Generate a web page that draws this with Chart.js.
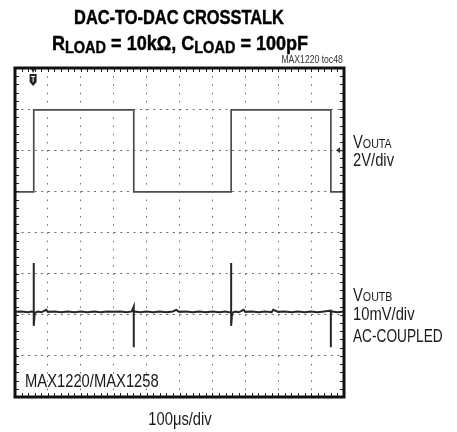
<!DOCTYPE html>
<html>
<head>
<meta charset="utf-8">
<script src="https://cdn.jsdelivr.net/npm/chart.js@4.4.1/dist/chart.umd.min.js"></script>
<style>
  html, body { margin:0; padding:0; background:#fff; }
  #wrap { position:relative; width:457px; height:432px; overflow:hidden; }
  canvas { position:absolute; left:0; top:0; }
  .t { position:absolute; white-space:nowrap; font-family:"Liberation Sans",Arial,sans-serif; color:#1a1a1a; line-height:1; transform:scaleX(0.82); transform-origin:0 50%; }
  .c { transform-origin:50% 50%; text-align:center; }
  .r { transform-origin:100% 50%; text-align:right; }
  .b { font-weight:bold; color:#000; -webkit-text-stroke:0.45px #000; }
  .sub { position:relative; top:3px; font-size:16.5px; }
</style>
</head>
<body>
<div id="wrap">
  <canvas id="c" width="457" height="432"></canvas>
  <div class="t b c" style="left:0;width:358px;top:7px;font-size:20px;">DAC-TO-DAC CROSSTALK</div>
  <div class="t b c" style="left:0;width:360px;top:33px;font-size:20.5px;transform:scaleX(0.88);">R<span class="sub">LOAD</span> = 10kΩ, C<span class="sub">LOAD</span> = 100pF</div>
  <div class="t r" style="right:114px;top:54px;font-size:10.5px;color:#333;">MAX1220 toc48</div>
  <div class="t" style="left:353px;top:133px;font-size:18px;">V<span style="font-size:13px;">OUTA</span></div>
  <div class="t" style="left:353px;top:151px;font-size:18px;">2V/div</div>
  <div class="t" style="left:353px;top:286px;font-size:18px;">V<span style="font-size:13px;">OUTB</span></div>
  <div class="t" style="left:353px;top:305px;font-size:18px;">10mV/div</div>
  <div class="t" style="left:353px;top:327px;font-size:18px;transform:scaleX(0.76);">AC-COUPLED</div>
  <div class="t" style="left:25px;top:372px;font-size:18px;">MAX1220/MAX1258</div>
  <div class="t c" style="left:0;width:360px;top:410px;font-size:18px;">100μs/div</div>
</div>
<script>
// ---- data (x in divisions of 100us, y in screen divisions 0..8) ----
const xDivisions = [0, 1, 2, 3, 4, 5, 6, 7, 8, 9, 10];
const yDivisions = [0, 1, 2, 3, 4, 5, 6, 7, 8];

// VOUTA square wave (2V/div)
const outATimes  = [0, 0.57, 0.57, 3.61, 3.61, 6.57, 6.57, 9.60, 9.60, 10];
const outALevels = [4.99, 4.99, 6.98, 6.98, 4.99, 4.99, 6.98, 6.98, 4.99, 4.99];

// VOUTB crosstalk (10mV/div, AC-coupled)
const outBTimes = [0, 0.2, 0.4, 0.5, 0.57, 0.57, 0.57, 0.6, 0.7, 0.8, 0.95, 1.0, 1.2, 1.4, 1.6, 1.8,
  2.0, 2.2, 2.4, 2.6, 2.8, 3.0, 3.2, 3.4, 3.55, 3.61, 3.61, 3.61, 3.65, 3.8, 4.0, 4.2, 4.4, 4.6,
  4.8, 4.9, 5.0, 5.2, 5.4, 5.6, 5.8, 6.0, 6.2, 6.4, 6.5, 6.57, 6.57, 6.57, 6.6, 6.7, 6.8, 6.95,
  7.0, 7.2, 7.4, 7.6, 7.8, 7.85, 8.0, 8.2, 8.4, 8.6, 8.8, 9.0, 9.2, 9.4, 9.5, 9.6, 9.6, 9.6,
  9.65, 9.8, 10];
const outBLevels = [2.07, 2.08, 2.06, 2.08, 2.07, 3.26, 1.73, 2.05, 2.08, 2.06, 2.12, 2.07, 2.08, 2.06, 2.08, 2.06,
  2.08, 2.06, 2.08, 2.06, 2.08, 2.07, 2.08, 2.06, 2.08, 2.20, 1.21, 2.07, 2.08, 2.06, 2.08, 2.06, 2.08, 2.06,
  2.08, 2.12, 2.07, 2.08, 2.06, 2.08, 2.06, 2.08, 2.06, 2.08, 2.06, 2.07, 3.26, 1.73, 2.05, 2.08, 2.06, 2.12,
  2.07, 2.08, 2.06, 2.08, 2.06, 2.12, 2.07, 2.08, 2.06, 2.08, 2.06, 2.08, 2.06, 2.08, 2.09, 2.10, 1.21, 2.07,
  2.08, 2.06, 2.08];

const triggerTime = 0.55;
const chAGround = 6;

const toPts = (xs, ys) => xs.map((x, i) => ({ x: x, y: ys[i] }));

const scopePlugin = {
  id: 'scope',
  afterDraw(chart) {
    const { ctx, chartArea: a, scales: { x, y } } = chart;
    ctx.save();
    // minor tick marks along the frame
    ctx.strokeStyle = '#222';
    ctx.lineWidth = 1;
    ctx.beginPath();
    for (let i = 0; i <= 50; i++) {
      const px = Math.round(x.getPixelForValue(i * 0.2)) + 0.5;
      ctx.moveTo(px, a.top); ctx.lineTo(px, a.top + 4);
      ctx.moveTo(px, a.bottom); ctx.lineTo(px, a.bottom - 4);
    }
    for (let i = 0; i <= 40; i++) {
      const py = Math.round(y.getPixelForValue(i * 0.2)) + 0.5;
      ctx.moveTo(a.left, py); ctx.lineTo(a.left + 4, py);
      ctx.moveTo(a.right, py); ctx.lineTo(a.right - 4, py);
    }
    ctx.stroke();
    // frame
    ctx.strokeStyle = '#111';
    ctx.lineWidth = 3;
    ctx.strokeRect(a.left, a.top, a.right - a.left, a.bottom - a.top);
    // trigger marker
    const tx = x.getPixelForValue(triggerTime);
    ctx.fillStyle = '#222';
    ctx.beginPath();
    ctx.moveTo(tx - 2, a.top + 1); ctx.lineTo(tx + 2, a.top + 1); ctx.lineTo(tx, a.top + 5); ctx.closePath(); ctx.fill();
    ctx.beginPath();
    ctx.moveTo(tx - 3.5, a.top + 6);
    ctx.lineTo(tx + 3.5, a.top + 6);
    ctx.lineTo(tx + 3.5, a.top + 14);
    ctx.lineTo(tx, a.top + 18);
    ctx.lineTo(tx - 3.5, a.top + 14);
    ctx.closePath(); ctx.fill();
    ctx.strokeStyle = '#fff'; ctx.lineWidth = 1;
    ctx.beginPath();
    ctx.moveTo(tx - 2, a.top + 8.5); ctx.lineTo(tx + 2, a.top + 8.5);
    ctx.moveTo(tx, a.top + 8.5); ctx.lineTo(tx, a.top + 14);
    ctx.stroke();
    // channel A ground marker
    const gy = y.getPixelForValue(chAGround);
    ctx.fillStyle = '#333';
    ctx.beginPath();
    ctx.moveTo(a.right - 8, gy); ctx.lineTo(a.right - 4, gy - 3); ctx.lineTo(a.right - 4, gy + 3); ctx.closePath(); ctx.fill();
    ctx.lineWidth = 1; ctx.strokeStyle = '#333';
    ctx.beginPath(); ctx.moveTo(a.right - 5, gy + 0.5); ctx.lineTo(a.right - 1, gy + 0.5); ctx.stroke();
    ctx.restore();
  }
};

new Chart(document.getElementById('c'), {
  type: 'scatter',
  data: {
    datasets: [
      { label: 'VOUTA', data: toPts(outATimes, outALevels), showLine: true, borderColor: '#4d4d4d', borderWidth: 1.7, pointRadius: 0, tension: 0 },
      { label: 'VOUTB', data: toPts(outBTimes, outBLevels), showLine: true, borderColor: '#262626', borderWidth: 2, pointRadius: 0, tension: 0 }
    ]
  },
  options: {
    responsive: false,
    animation: false,
    devicePixelRatio: 1,
    layout: { padding: { left: 15, right: 113, top: 68, bottom: 35 } },
    plugins: { legend: { display: false }, tooltip: { enabled: false }, title: { display: false } },
    scales: {
      x: {
        type: 'linear', min: xDivisions[0], max: xDivisions[xDivisions.length - 1],
        afterBuildTicks: s => { s.ticks = xDivisions.map(v => ({ value: v })); },
        ticks: { display: false },
        grid: { color: '#6a6a6a', lineWidth: 1, drawTicks: false, tickLength: 0 },
        border: { display: false, dash: [1.5, 6.72] }
      },
      y: {
        type: 'linear', min: yDivisions[0], max: yDivisions[yDivisions.length - 1],
        afterBuildTicks: s => { s.ticks = yDivisions.map(v => ({ value: v })); },
        ticks: { display: false },
        grid: { color: '#6a6a6a', lineWidth: 1, drawTicks: false, tickLength: 0 },
        border: { display: false, dash: [2, 4.58] }
      }
    }
  },
  plugins: [scopePlugin]
});
</script>
</body>
</html>
